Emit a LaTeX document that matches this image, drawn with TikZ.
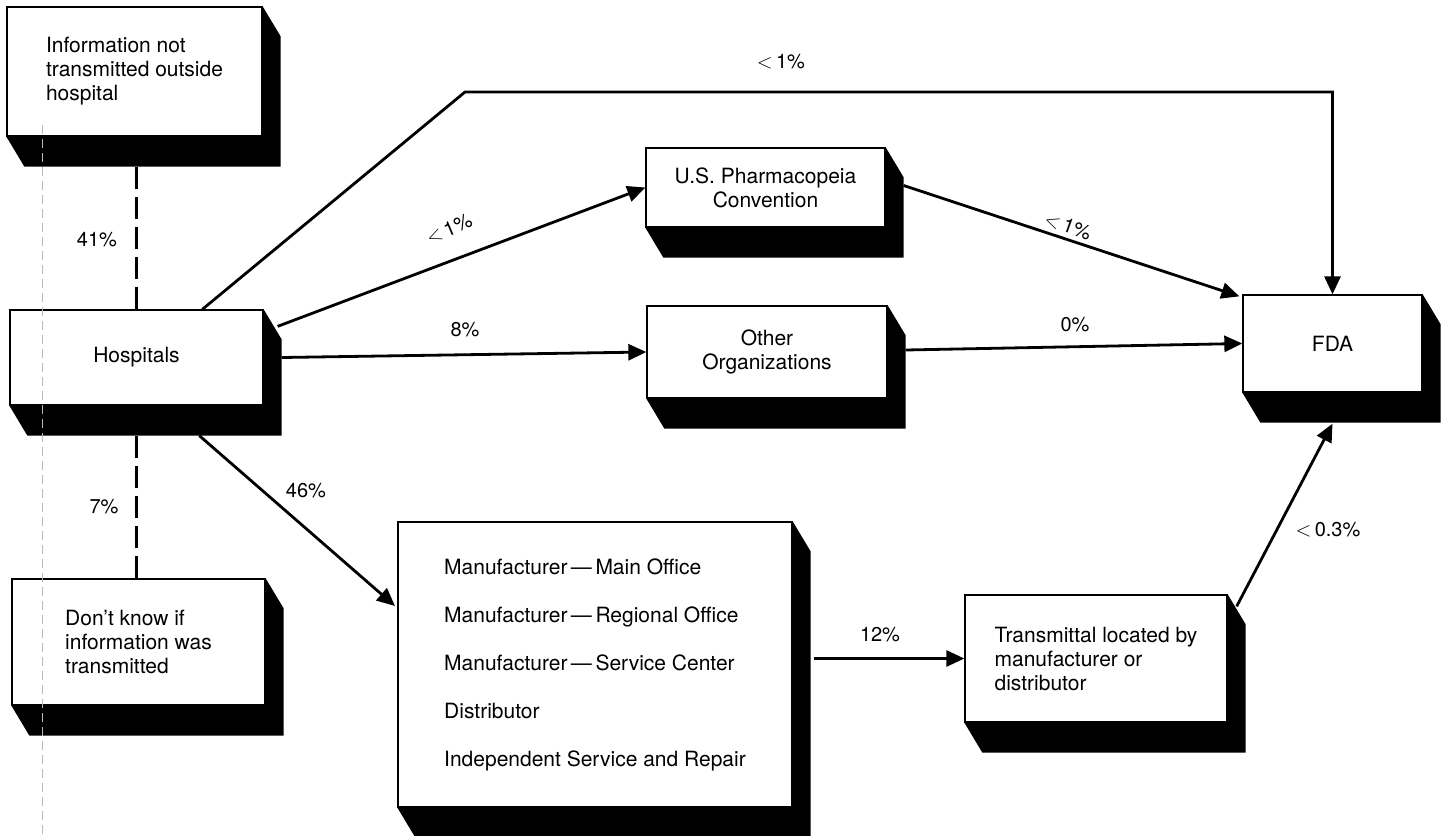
\documentclass[tikz,border=0pt]{standalone}
\usepackage{fontspec}
\setmainfont{TeX Gyre Heros}
\usetikzlibrary{arrows.meta,calc}
\tikzset{
  box/.style={draw, line width=1.3pt, fill=white, inner sep=0pt, font=\fontsize{21}{24}\selectfont},
  arr/.style={line width=2.8pt, -{Triangle[length=18pt,width=16pt]}},
  dashline/.style={line width=2.8pt, dash pattern=on 22pt off 8pt},
  lbl/.style={font=\fontsize{20}{24}\selectfont, inner sep=1pt},
  foldline/.style={line width=0.6pt, gray!55, dash pattern=on 9pt off 5pt},
}
\newcommand{\lt}{$<$}
\newcommand{\boxshadow}[1]{\fill (#1.north east) -- ++(18,30) -- ($(#1.south east)+(18,30)$) -- ($(#1.south west)+(18,30)$) -- (#1.south west) -- (#1.south east) -- cycle;}
\begin{document}
\begin{tikzpicture}[x=1pt,y=-1pt]
\useasboundingbox (0,0) rectangle (1442,835);

% boxes
\node[box, minimum width=255pt, minimum height=129pt, align=left] (info) at (134.5,71.5)
  {Information not\\transmitted outside\\hospital};
\node[box, minimum width=253pt, minimum height=95pt] (hosp) at (136.5,357.5) {Hospitals};
\node[box, minimum width=253pt, minimum height=126pt, align=left] (dk) at (138.5,642)
  {Don't know if\\information was\\transmitted};
\node[box, minimum width=239pt, minimum height=79pt, align=center] (usp) at (765.5,187.5)
  {U.S. Pharmacopeia\\Convention};
\node[box, minimum width=240pt, minimum height=92pt, align=center] (other) at (767,352)
  {Other\\Organizations};
\node[box, minimum width=179pt, minimum height=97pt] (fda) at (1332.5,343.5) {FDA};
\node[box, minimum width=394pt, minimum height=285pt, align=left, font=\fontsize{21}{48}\selectfont] (man) at (595,664.5)
  {Manufacturer\,---\,Main Office\\Manufacturer\,---\,Regional Office\\Manufacturer\,---\,Service Center\\Distributor\\Independent Service and Repair};
\node[box, minimum width=262pt, minimum height=127pt, align=left] (trans) at (1096,658.5)
  {Transmittal located by\\manufacturer or\\distributor};

\foreach \b in {info,hosp,dk,usp,other,fda,man,trans} {\boxshadow{\b}}

% fold line of the scan
\draw[foldline] (42,125) -- (42,835);

% connectors
\coordinate (bend) at (465,92);
\coordinate (manin) at (395,606);
\draw[dashline] ($(info.south)+(2,30)$) -- (hosp.north);
\draw[dashline] ($(hosp.south)+(0,30)$) -- (hosp.south |- dk.north);
\draw[arr] ($(hosp.north west)+(193,0)$) -- (bend) -| (fda.north);
\draw[arr] ($(hosp.north east)+(14,17)$) -- (usp.west);
\draw[arr] ($(hosp.east)+(18,0)$) -- (other.west);
\draw[arr] ($(hosp.south west)+(190,30)$) -- (manin);
\draw[arr] ($(usp.east)+(18,-2)$) -- ($(fda.north west)+(-3,2)$);
\draw[arr] ($(other.east)+(18,-2)$) -- (fda.west);
\draw[arr] ($(man.east |- trans.west)+(21,0)$) -- (trans.west);
\draw[arr] ($(trans.north east)+(9,12)$) -- ($(fda.south)+(0,31)$);

% labels
\node[lbl] (ltop) at (781,62) {\lt\,1\%};
\node[lbl, rotate=23] (lusp1) at (449,229) {\lt\,1\%};
\node[lbl, rotate=-20] (lusp2) at (1068,226) {\lt\,1\%};
\node[lbl] (l41) at (97,240) {41\%};
\node[lbl] (l8) at (465,330) {8\%};
\node[lbl] (l0) at (1075,325) {0\%};
\node[lbl] (l46) at (306,491) {46\%};
\node[lbl] (l7) at (104,507) {7\%};
\node[lbl] (l12) at (880,635) {12\%};
\node[lbl] (l03) at (1328,530) {\lt\,0.3\%};
\end{tikzpicture}
\end{document}
